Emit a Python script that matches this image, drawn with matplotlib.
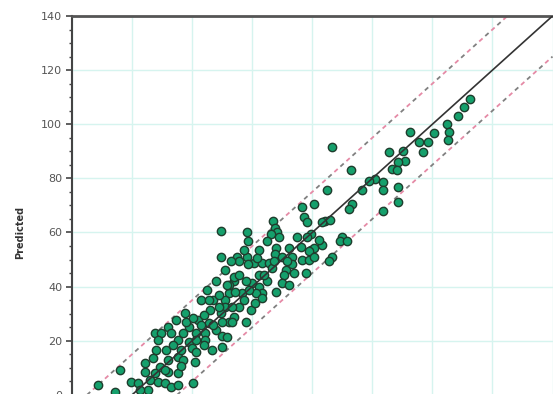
import numpy as np
import matplotlib
matplotlib.use("Agg")
import matplotlib.pyplot as plt
from matplotlib.ticker import MultipleLocator

observed = [
    112.5, 110.5, 108.5, 104.8, 105.5, 105.2, 100.5, 98.5, 95.4, 96.8,
    92.4, 90.1, 90.8, 88.7, 85.7, 86.7, 88.1, 88.4, 83.4, 83.4,
    81.0, 79.0, 76.7, 73.0, 66.6, 65.0, 88.4, 83.4, 60.6, 73.3,
    72.3, 64.3, 66.0, 63.3, 70.0, 69.3, 71.7, 63.3, 59.6, 66.6,
    59.6, 29.5, 38.2, 38.5, 46.9, 47.6, 48.2, 46.2, 48.9, 44.9,
    47.9, 52.2, 54.9, 58.3, 56.3, 60.6, 56.6, 57.3, 58.3, 29.5,
    34.8, 38.2, 47.6, 53.2, 49.9, 40.5, 43.2, 45.5, 46.6, 51.2,
    53.2, 56.6, 58.9, 58.9, 60.6, 65.6, 50.6, 49.9, 52.2, 39.9,
    42.2, 43.2, 41.2, 47.9, 43.2, 57.9, 39.5, 35.5, 38.5, 33.8,
    37.8, 36.5, 32.2, 31.1, 24.8, 22.8, 31.1, 35.5, 29.5, 33.8,
    17.7, 22.1, 25.5, 37.8, 32.2, 18.8, 12.1, 7.7, 9.7, 13.1,
    15.4, 17.1, 8.0, 11.4, 15.4, 12.1, 15.4, 7.0, 4.4, 9.4,
    12.1, 6.0, 8.7, 11.1, -0.3, 2.0, -4.0, -11.4, 13.1, 15.4,
    -5.7, 5.4, 22.8, 29.8, 21.4, 24.4, 27.8, 29.8, 31.5, 18.8,
    21.4, 16.4, 19.8, 21.4, 26.5, 29.8, 17.1, 21.1, 20.4, 33.2,
    8.7, 24.4, 28.8, 33.2, 32.2, 33.8, 2.7, 4.4, 7.7, 11.1,
    16.4, 27.1, 26.1, 37.2, 40.9, 42.2, 44.9, 35.5, 30.8, 28.1,
    23.8, 13.7, 53.9, 42.2, 32.8, 18.1, 25.5, 28.8, 34.2, 38.8,
    43.9, 47.2, 51.6, 41.5, 31.5, 27.1, 20.4, 23.8, 14.7, 37.2,
    62.3,
]
predicted = [
    109.3, 106.3, 103.0, 100.0, 97.0, 94.1, 96.7, 93.3, 93.3, 89.6,
    97.0, 90.0, 86.3, 85.9, 89.6, 83.3, 83.0, 76.7, 78.5, 75.6,
    79.6, 78.9, 75.6, 83.0, 91.5, 75.6, 71.1, 68.1, 70.4, 70.4,
    68.5, 64.1, 64.8, 63.7, 58.5, 56.7, 56.7, 55.2, 53.7, 51.1,
    59.3, 60.7, 60.0, 57.0, 64.4, 61.5, 60.0, 59.3, 58.5, 56.7,
    54.4, 54.4, 58.5, 58.5, 54.8, 54.4, 69.3, 65.6, 63.7, 51.1,
    51.1, 51.1, 51.9, 51.1, 51.1, 48.9, 48.9, 48.9, 47.0, 46.3,
    48.2, 50.0, 50.0, 53.0, 51.1, 49.3, 44.4, 41.5, 40.7, 41.5,
    40.0, 37.8, 37.8, 38.1, 35.9, 45.2, 31.5, 49.3, 48.2, 41.9,
    41.9, 37.8, 37.8, 35.2, 38.9, 35.2, 32.6, 32.6, 30.4, 28.9,
    30.4, 27.8, 26.7, 27.0, 27.0, 25.2, 25.2, 23.0, 23.0, 23.0,
    20.4, 23.0, 16.7, 16.7, 14.1, 13.0, 8.1, 13.7, 11.9, 10.4,
    8.5, 5.6, 4.8, 4.4, 4.8, 4.4, 9.3, 3.7, 3.0, 3.7,
    1.1, 1.9, 25.9, 27.0, 23.0, 23.0, 24.1, 21.9, 21.5, 19.6,
    20.4, 16.7, 17.4, 15.9, 16.7, 17.8, 13.0, 12.2, 4.4, 27.0,
    20.4, 20.4, 32.6, 32.6, 40.7, 43.7, 1.9, 8.5, 8.1, 9.3,
    10.7, 35.2, 31.5, 35.2, 34.1, 44.4, 41.9, 44.4, 46.3, 41.9,
    29.6, 18.5, 45.2, 53.7, 49.3, 27.0, 35.2, 37.0, 38.1, 38.9,
    44.4, 49.3, 49.3, 50.7, 40.7, 25.9, 28.5, 18.5, 27.8, 53.7,
    57.4,
]

# faixa das linhas de referência (y = x e y = x ± 15)
line_x = [-20, 140]
band_offset = 15

fig = plt.figure(figsize=(5.53, 3.94), dpi=100)
fig.patch.set_facecolor("white")
# eixos maiores que a figura: a borda de baixo fica cortada como no original
ax = fig.add_axes([72 / 553, -0.1396, 480.5 / 553, 1.099])

ax.set_xlim(-20, 140)
ax.set_ylim(-20, 140)

# grade ciano clara
ax.xaxis.set_major_locator(MultipleLocator(20))
ax.yaxis.set_major_locator(MultipleLocator(20))
ax.yaxis.set_minor_locator(MultipleLocator(5))
ax.grid(True, which="major", color="#d6f4ef", linewidth=1.0)
ax.set_axisbelow(True)

lx = np.array(line_x)
# linhas tracejadas (cinza + rosa alternados, com espaço)
for off in (band_offset, -band_offset):
    ax.plot(lx, lx + off, color="#808080", linewidth=1.3,
            linestyle=(0, (2.5, 6.5)), zorder=2)
    ax.plot(lx, lx + off, color="#e58aa6", linewidth=1.3,
            linestyle=(4.5, (2.5, 6.5)), zorder=2)

# pontos
ax.scatter(observed, predicted, s=36, color="#15a06c",
           edgecolors="#1f3d2d", linewidths=1.0, zorder=3)

# linha identidade
ax.plot(lx, lx, color="#333333", linewidth=1.2, zorder=4)

for side in ("right", "bottom"):
    ax.spines[side].set_visible(False)
ax.spines["top"].set_color("#555555")
ax.spines["top"].set_linewidth(2.0)
ax.spines["left"].set_color("#444444")
ax.spines["left"].set_linewidth(1.5)

ax.tick_params(axis="y", which="major", direction="out", length=4,
               width=1.2, color="#444444", labelsize=8, labelcolor="#555555",
               pad=3)
ax.tick_params(axis="y", which="minor", direction="out", length=2,
               width=1.0, color="#444444")
ax.tick_params(axis="x", bottom=False, labelbottom=False)

ax.set_ylabel("Predicted", fontsize=7, color="#333333", fontweight="bold",
              labelpad=10)

fig.savefig("out.png", dpi=100)
